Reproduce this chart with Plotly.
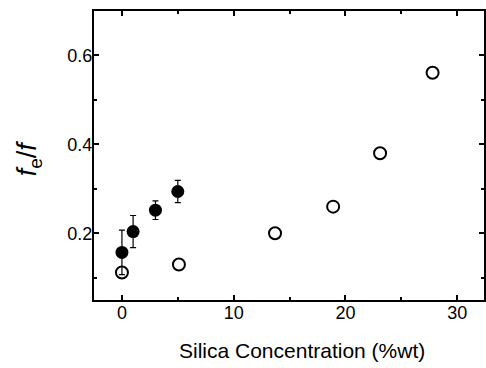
import plotly.graph_objects as go

# Open circles
open_x = [0.0, 5.1, 13.7, 18.9, 23.1, 27.8]
open_y = [0.112, 0.130, 0.200, 0.260, 0.380, 0.561]

# Filled circles with error bars
fill_x = [0.0, 1.0, 3.0, 5.0]
fill_y = [0.157, 0.204, 0.252, 0.294]
fill_err = [0.050, 0.036, 0.021, 0.025]

x_ticks = [0, 10, 20, 30]
y_ticks = [0.2, 0.4, 0.6]

FONT = "Liberation Sans, Arial, sans-serif"

fig = go.Figure()
fig.add_trace(go.Scatter(
    x=fill_x, y=fill_y, mode="markers",
    marker=dict(symbol="circle", size=13, color="black", line=dict(color="black", width=0)),
    error_y=dict(type="data", array=fill_err, visible=True, color="black", thickness=1.2, width=3),
    showlegend=False,
))
fig.add_trace(go.Scatter(
    x=open_x, y=open_y, mode="markers",
    marker=dict(symbol="circle-open", size=12, color="black", line=dict(color="black", width=2)),
    showlegend=False,
))

axis_common = dict(
    showgrid=False, zeroline=False, showline=True, linecolor="black", linewidth=2,
    mirror="allticks", ticks="inside", ticklen=5, tickwidth=2, tickcolor="black",
    tickfont=dict(family=FONT, size=18, color="black"),
)
fig.update_xaxes(range=[-2.5, 32.4], tickvals=x_ticks, ticktext=[str(v) for v in x_ticks],
                 minor=dict(tickvals=[5, 15, 25], ticks="inside", ticklen=3, tickwidth=2, tickcolor="black"),
                 ticklabelstandoff=-5, **axis_common)
fig.update_yaxes(range=[0.05, 0.70], tickvals=y_ticks, ticktext=["0.2", "0.4", "0.6"],
                 minor=dict(tickvals=[0.1, 0.3, 0.5], ticks="inside", ticklen=3, tickwidth=2, tickcolor="black"),
                 ticklabelstandoff=-4, **axis_common)

fig.add_annotation(text="Silica Concentration (%wt)", xref="paper", yref="paper",
                   x=0.533, y=-0.176, yanchor="middle", xanchor="center", showarrow=False,
                   font=dict(family=FONT, size=21, color="black"))
fig.add_annotation(text="<i>f</i><sub>e</sub>/<i>f</i>", xref="paper", yref="paper",
                   x=-0.166, y=0.491, xanchor="center", yanchor="middle", textangle=-90, showarrow=False,
                   font=dict(family=FONT, size=27, color="black"))

fig.update_layout(
    width=486, height=368,
    margin=dict(l=94, r=0, t=11, b=68),
    paper_bgcolor="white", plot_bgcolor="white",
)
fig.write_html("out.html", config={"displayModeBar": False},
               post_script="document.body.style.margin='0';")
